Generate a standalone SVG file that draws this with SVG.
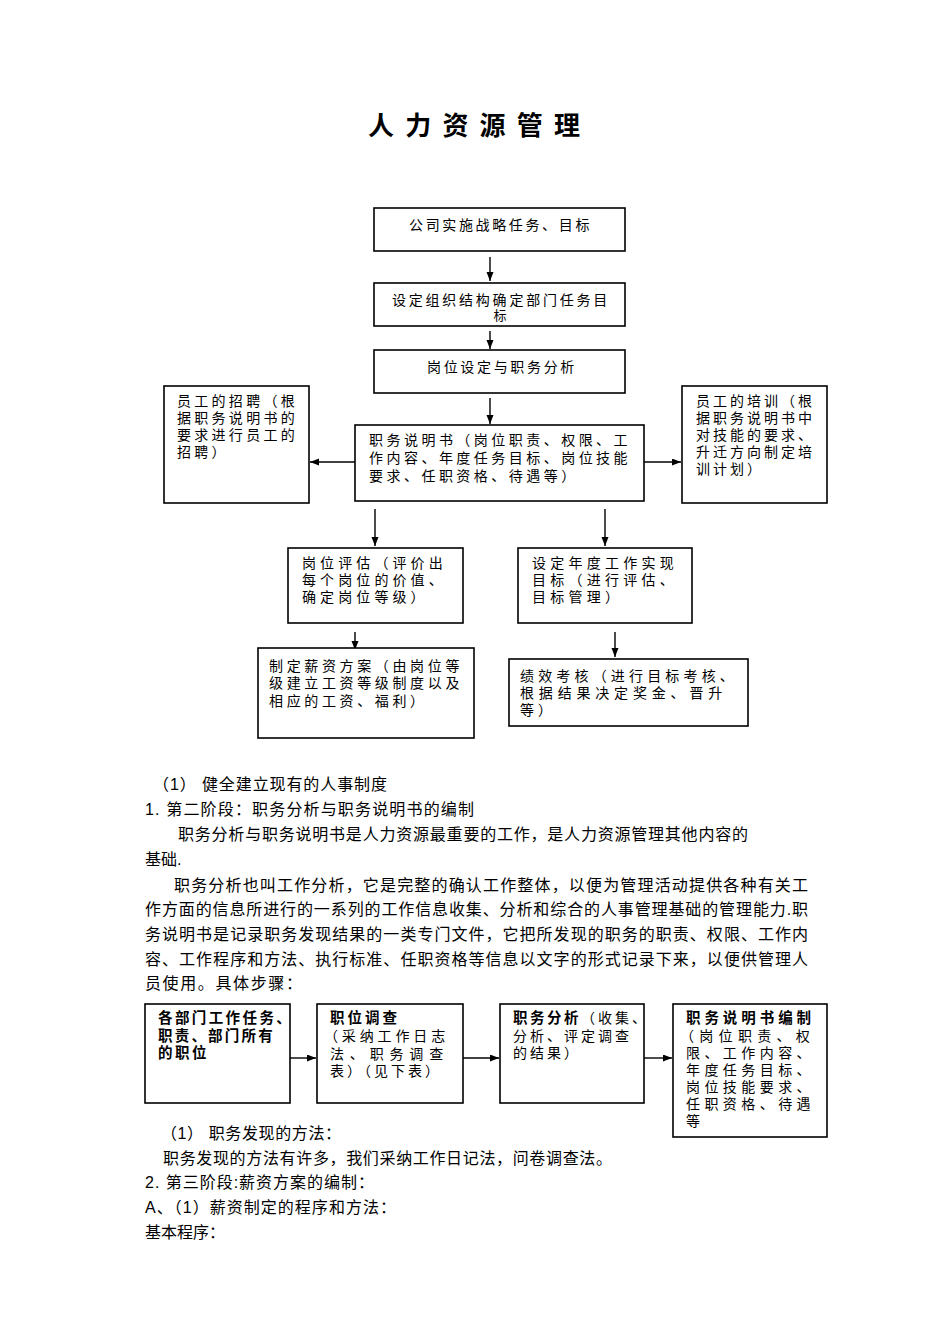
<svg xmlns="http://www.w3.org/2000/svg" width="950" height="1344" viewBox="0 0 950 1344">
<style>
text{font-family:"Liberation Sans","Noto Sans CJK SC",sans-serif;fill:#000;}
.t{font-size:14px;}
.b{font-size:14.5px;font-weight:bold;}
.p{font-size:16px;}
.title{font-size:26px;font-weight:bold;}
rect{fill:#fff;stroke:#000;stroke-width:1.6;}
.c line{stroke:#000;stroke-width:1.4;marker-end:url(#ah);}
</style>
<defs>
<marker id="ah" markerUnits="userSpaceOnUse" markerWidth="10" markerHeight="8" refX="9" refY="3.5" orient="auto">
<path d="M0,0 L9,3.5 L0,7 z" fill="#000"/>
</marker>
</defs>
<rect x="0" y="0" width="950" height="1344" style="stroke:none;fill:#fff"/>
<text class="title" x="368" y="135" textLength="212" lengthAdjust="spacing">人力资源管理</text>

<g class="c" id="connectors">
<line x1="490" y1="257" x2="490" y2="281"/>
<line x1="490" y1="331" x2="490" y2="349"/>
<line x1="490" y1="398" x2="490" y2="424"/>
<line x1="355" y1="462" x2="310" y2="462"/>
<line x1="644" y1="462" x2="681" y2="462"/>
<line x1="375" y1="509" x2="375" y2="546"/>
<line x1="605" y1="509" x2="605" y2="546"/>
<line x1="355" y1="632" x2="355" y2="650"/>
<line x1="615" y1="632" x2="615" y2="657"/>
<line x1="290" y1="1058" x2="316" y2="1058"/>
<line x1="463" y1="1058" x2="499" y2="1058"/>
<line x1="644" y1="1058" x2="672" y2="1058"/>
</g>

<g id="n1"><rect x="374" y="208" width="251" height="43"/>
<text class="t" x="409" y="229.5" letter-spacing="2.64">公司实施战略任务、目标</text></g>
<g id="n2"><rect x="374" y="283" width="251" height="43"/>
<text class="t"><tspan x="392" y="304.5" letter-spacing="2.77">设定组织结构确定部门任务目</tspan><tspan x="493.5" y="319.5" style="font-size:13px">标</tspan></text></g>
<g id="n3"><rect x="374" y="350" width="251" height="43"/>
<text class="t" x="427" y="371.5" letter-spacing="2.67">岗位设定与职务分析</text></g>
<g id="n4"><rect x="355" y="425" width="289" height="76"/>
<text class="t" letter-spacing="3.47"><tspan x="369" y="444.5">职务说明书（岗位职责、权限、工</tspan><tspan x="369" y="462.5">作内容、年度任务目标、岗位技能</tspan><tspan x="369" y="480.5">要求、任职资格、待遇等）</tspan></text></g>
<g id="n5"><rect x="164" y="386" width="145" height="117"/>
<text class="t" letter-spacing="3.29"><tspan x="177" y="405.5">员工的招聘（根</tspan><tspan x="177" y="422.5">据职务说明书的</tspan><tspan x="177" y="439.5">要求进行员工的</tspan><tspan x="177" y="456.5">招聘）</tspan></text></g>
<g id="n6"><rect x="682" y="386" width="145" height="117"/>
<text class="t" letter-spacing="3"><tspan x="696" y="405.5">员工的培训（根</tspan><tspan x="696" y="422.5">据职务说明书中</tspan><tspan x="696" y="440">对技能的要求、</tspan><tspan x="696" y="457">升迁方向制定培</tspan><tspan x="696" y="474">训计划）</tspan></text></g>
<g id="n7"><rect x="288" y="548" width="175" height="75"/>
<text class="t" letter-spacing="4.1"><tspan x="302" y="568">岗位评估（评价出</tspan><tspan x="302" y="585">每个岗位的价值、</tspan><tspan x="302" y="602">确定岗位等级）</tspan></text></g>
<g id="n8"><rect x="518" y="548" width="174" height="75"/>
<text class="t" letter-spacing="4.25"><tspan x="532" y="568">设定年度工作实现</tspan><tspan x="532" y="585">目标（进行评估、</tspan><tspan x="532" y="602">目标管理）</tspan></text></g>
<g id="n9"><rect x="258" y="648" width="216" height="90"/>
<text class="t" letter-spacing="3.64"><tspan x="269" y="670.5">制定薪资方案（由岗位等</tspan><tspan x="269" y="688">级建立工资等级制度以及</tspan><tspan x="269" y="705.5">相应的工资、福利）</tspan></text></g>
<g id="n10"><rect x="509" y="659" width="239" height="67"/>
<text class="t"><tspan x="520" y="680.5" letter-spacing="4.17">绩效考核（进行目标考核、</tspan><tspan x="520" y="697.5" letter-spacing="4.82">根据结果决定奖金、晋升</tspan><tspan x="520" y="714.5" letter-spacing="4">等）</tspan></text></g>

<g id="paragraph1">
<text class="p" x="153" y="790" textLength="234" lengthAdjust="spacing">（1） 健全建立现有的人事制度</text>
<text class="p" x="145" y="815" textLength="329" lengthAdjust="spacing">1. 第二阶段：职务分析与职务说明书的编制</text>
<text class="p" x="178" y="840" textLength="570" lengthAdjust="spacing">职务分析与职务说明书是人力资源最重要的工作，是人力资源管理其他内容的</text>
<text class="p" x="145" y="865">基础.</text>
<text class="p" x="174" y="891" textLength="634" lengthAdjust="spacing">职务分析也叫工作分析，它是完整的确认工作整体，以便为管理活动提供各种有关工</text>
<text class="p" x="145" y="915" textLength="663" lengthAdjust="spacing">作方面的信息所进行的一系列的工作信息收集、分析和综合的人事管理基础的管理能力.职</text>
<text class="p" x="145" y="940" textLength="663" lengthAdjust="spacing">务说明书是记录职务发现结果的一类专门文件，它把所发现的职务的职责、权限、工作内</text>
<text class="p" x="145" y="965" textLength="663" lengthAdjust="spacing">容、工作程序和方法、执行标准、任职资格等信息以文字的形式记录下来，以便供管理人</text>
<text class="p" x="145" y="989" textLength="157" lengthAdjust="spacing">员使用。具体步骤：</text>
</g>

<g id="s1"><rect x="145" y="1004" width="145" height="99"/>
<text class="b"><tspan x="158" y="1023" letter-spacing="2.4">各部门工作任务、</tspan><tspan x="158" y="1041" letter-spacing="2.2">职责、部门所有</tspan><tspan x="158" y="1058" letter-spacing="2.5">的职位</tspan></text></g>
<g id="s2"><rect x="317" y="1004" width="146" height="99"/>
<text class="t"><tspan class="b" x="330" y="1023" letter-spacing="3">职位调查</tspan><tspan x="324" y="1041" letter-spacing="3.86">（采纳工作日志</tspan><tspan x="330" y="1059" letter-spacing="5.83">法、职务调查</tspan><tspan x="330" y="1076" letter-spacing="3">表）（见下表）</tspan></text></g>
<g id="s3"><rect x="500" y="1004" width="144" height="99"/>
<text class="t" letter-spacing="3"><tspan class="b" x="513" y="1023" letter-spacing="2.5">职务分析</tspan><tspan>（收集、</tspan><tspan x="513" y="1041">分析、评定调查</tspan><tspan x="513" y="1058">的结果）</tspan></text></g>
<g id="s4"><rect x="673" y="1004" width="154" height="133"/>
<text class="t" letter-spacing="4.43"><tspan class="b" x="686" y="1023" letter-spacing="3.93">职务说明书编制</tspan><tspan x="680" y="1040.5" letter-spacing="5.3">（岗位职责、权</tspan><tspan x="686" y="1057.5">限、工作内容、</tspan><tspan x="686" y="1074.5">年度任务目标、</tspan><tspan x="686" y="1091.5">岗位技能要求、</tspan><tspan x="686" y="1108.5">任职资格、待遇</tspan><tspan x="686" y="1125.5">等</tspan></text></g>

<g id="paragraph2">
<text class="p" x="161" y="1139" textLength="180" lengthAdjust="spacing">（1） 职务发现的方法：</text>
<text class="p" x="163" y="1164" textLength="449" lengthAdjust="spacing">职务发现的方法有许多，我们采纳工作日记法，问卷调查法。</text>
<text class="p" x="145" y="1188" textLength="229" lengthAdjust="spacing">2. 第三阶段:薪资方案的编制：</text>
<text class="p" x="145" y="1213" textLength="251" lengthAdjust="spacing">A、（1）薪资制定的程序和方法：</text>
<text class="p" x="145" y="1238" textLength="80" lengthAdjust="spacing">基本程序：</text>
</g>
</svg>
